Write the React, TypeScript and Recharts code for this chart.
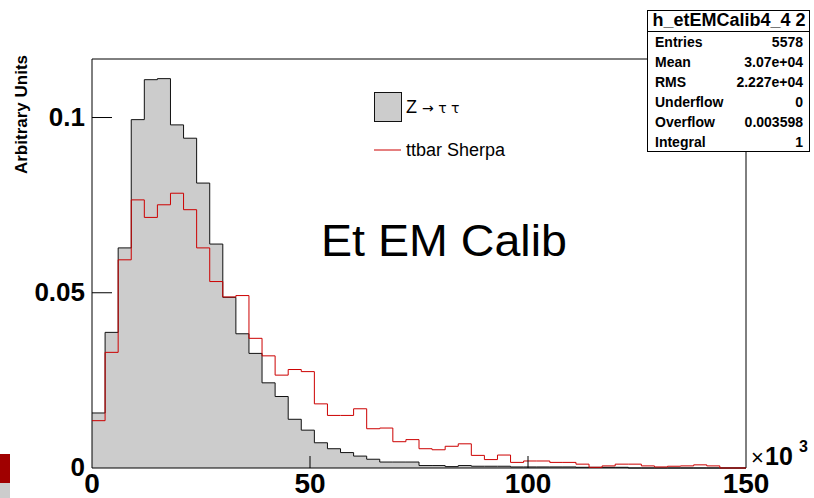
import { ComposedChart, Area, Line, XAxis, YAxis, ReferenceArea } from 'recharts';

const FONT = '"Liberation Sans", Arial, Helvetica, sans-serif';

// histogram binning (x in units of 10^3)
const BIN_WIDTH = 3;
const X_TICKS = [0, 50, 100, 150];
const Y_TICKS = [0, 0.05, 0.1];
const Y_MAX = 0.1167;

// Z -> tau tau (grey filled), 50 bins of 3
const ZTAUTAU = [
  0.0157, 0.0387, 0.0628, 0.0994, 0.1108, 0.1111, 0.0979, 0.0941, 0.0813, 0.0639,
  0.0487, 0.0383, 0.0327, 0.0243, 0.0204, 0.0139, 0.0108, 0.0072, 0.0055, 0.0044,
  0.0034, 0.0025, 0.0017, 0.0017, 0.0017, 0.0007, 0.0007, 0.0004, 0.0007, 0.0005,
  0.0005, 0.0005, 0.0003, 0.0003, 0.0003, 0.0003, 0.0003, 0.0002, 0.0002, 0.0002,
  0.0002, 0, 0, 0, 0, 0, 0, 0, 0, 0,
];

// ttbar Sherpa (red line)
const TTBAR = [
  0.0135, 0.0330, 0.0594, 0.0765, 0.0715, 0.0751, 0.0784, 0.0737, 0.0628, 0.0532,
  0.0488, 0.0492, 0.0370, 0.0320, 0.0265, 0.0281, 0.0275, 0.0183, 0.0150, 0.0150,
  0.0169, 0.0112, 0.0114, 0.0075, 0.0081, 0.0055, 0.0052, 0.0062, 0.0069, 0.0036,
  0.0024, 0.0037, 0.0016, 0.0020, 0.0020, 0.0016, 0.0016, 0.0011, 0.0002, 0.0006,
  0.0011, 0.0011, 0.0006, 0.0003, 0.0005, 0.0006, 0.0009, 0.0006, 0, 0,
];

const STAT_NAMES = ['Entries', 'Mean', 'RMS', 'Underflow', 'Overflow', 'Integral'];
const STAT_VALUES = ['5578', '3.07e+04', '2.227e+04', '0', '0.003598', '1'];

// one point per bin edge; the last edge repeats the last bin so stepAfter closes it
const data = Array.from({ length: ZTAUTAU.length + 1 }, (_, i) => {
  const k = Math.min(i, ZTAUTAU.length - 1);
  return { x: i * BIN_WIDTH, z: ZTAUTAU[k], tt: TTBAR[k] };
});

const YTick = ({ x, y, payload }: any) => (
  <g>
    {payload.value > 0 && <line x1={x} x2={x + 20} y1={y} y2={y} stroke="#000" />}
    <text x={x - 7} y={y + 8} textAnchor="end" fontSize={26} fontWeight="bold" fill="#000" fontFamily={FONT}>
      {String(payload.value)}
    </text>
  </g>
);

const XTick = ({ x, y, payload }: any) => (
  <g>
    {payload.value > 0 && payload.value < 150 && (
      <line x1={x} x2={x} y1={y} y2={y - 12} stroke="#000" />
    )}
    <text x={x} y={y + 25} textAnchor="middle" fontSize={28} fontWeight="bold" fill="#000" fontFamily={FONT}>
      {String(payload.value)}
    </text>
  </g>
);

export default function App() {
  return (
    <div style={{ position: 'absolute', left: 0, top: 0, width: 814, height: 498, background: '#fff', fontFamily: FONT }}>
      <ComposedChart
        width={814}
        height={498}
        data={data}
        margin={{ top: 59, right: 68, bottom: 0, left: 0 }}
      >
        <Area
          type="stepAfter"
          dataKey="z"
          stroke="#111"
          strokeWidth={1}
          fill="#cccccc"
          fillOpacity={1}
          isAnimationActive={false}
        />
        <Line
          type="stepAfter"
          dataKey="tt"
          stroke="#cc0000"
          strokeWidth={1}
          dot={false}
          isAnimationActive={false}
        />
        <XAxis
          dataKey="x"
          type="number"
          domain={[0, 150]}
          ticks={X_TICKS}
          height={30}
          axisLine={false}
          tickLine={false}
          tickSize={0}
          tickMargin={0}
          tick={<XTick />}
          interval={0}
        />
        <YAxis
          type="number"
          domain={[0, Y_MAX]}
          ticks={Y_TICKS}
          width={92}
          axisLine={false}
          tickLine={false}
          tickSize={0}
          tickMargin={0}
          tick={<YTick />}
          interval={0}
        />
        <ReferenceArea x1={0} x2={150} y1={0} y2={Y_MAX} fill="none" stroke="#000" strokeWidth={1} ifOverflow="visible" />
      </ComposedChart>

      <svg width={814} height={498} style={{ position: 'absolute', left: 0, top: 0, pointerEvents: 'none' }} fontFamily={FONT}>
        {/* cropped slide decoration at bottom-left */}
        <rect x={0} y={454} width={10} height={29} fill="#a00000" />
        <rect x={0} y={483} width={10} height={15} fill="#cccccc" />

        <text transform="translate(27,55) rotate(-90)" textAnchor="end" fontSize={17} fontWeight="bold" fill="#000">
          Arbitrary Units
        </text>

        {/* legend */}
        <rect x={374.5} y={92.5} width={27} height={29} fill="#cccccc" stroke="#111" strokeWidth={1} />
        <text x={406} y={113} fontSize={18} fill="#000">
          Z <tspan fontFamily='"DejaVu Sans", sans-serif' fontSize={14}>→ τ τ</tspan>
        </text>
        <line x1={374} x2={401} y1={150} y2={150} stroke="#cc0000" strokeWidth={1} />
        <text x={406} y={156} fontSize={18} fill="#000">ttbar Sherpa</text>

        <text x={321} y={256} fontSize={44} fill="#000" textLength={246} lengthAdjust="spacingAndGlyphs">
          Et EM Calib
        </text>

        <text x={751} y={465} fontSize={22} fill="#000">×</text>
        <text x={765} y={465} fontSize={25} fontWeight="bold" fill="#000">10</text>
        <text x={799} y={452} fontSize={16} fontWeight="bold" fill="#000">3</text>

        {/* stats box */}
        <rect x={647.5} y={10.5} width={162} height={141} fill="#fff" stroke="#000" strokeWidth={1} />
        <line x1={647.5} x2={809.5} y1={31.5} y2={31.5} stroke="#000" />
        <text x={729} y={26} textAnchor="middle" fontSize={18} fontWeight="bold" fill="#000">
          h_etEMCalib4_4 2
        </text>
        {STAT_NAMES.map((name, i) => (
          <g key={name}>
            <text x={655} y={47 + i * 20} fontSize={14} fontWeight="bold" fill="#000">{name}</text>
            <text x={803} y={47 + i * 20} textAnchor="end" fontSize={14} fontWeight="bold" fill="#000">
              {STAT_VALUES[i]}
            </text>
          </g>
        ))}
      </svg>
    </div>
  );
}
